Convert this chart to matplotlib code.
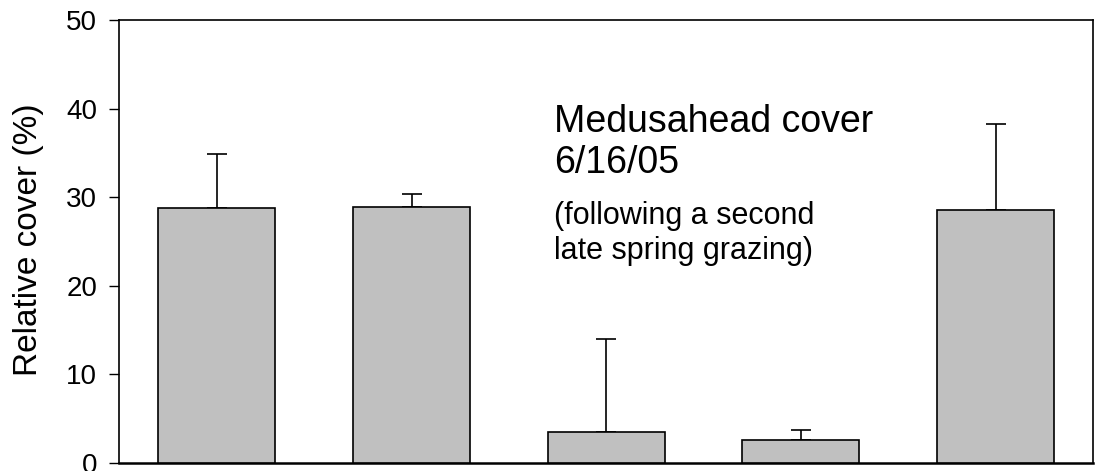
import matplotlib
matplotlib.use('Agg')
import matplotlib.pyplot as plt
import numpy as np

# data
groups = ['A', 'B', 'C', 'D', 'E']
cover = [28.75, 28.85, 3.5, 2.55, 28.6]
se_up = [6.1, 1.5, 10.55, 1.13, 9.7]
yticks = [0, 10, 20, 30, 40, 50]

plt.rcParams['font.family'] = ['Liberation Sans', 'DejaVu Sans']

fig = plt.figure(figsize=(11.03, 4.71), dpi=100)
ax = fig.add_axes([0.1083, 0.017, 0.8826, 0.9406])

x = np.arange(len(groups))
ax.bar(x, cover, width=0.6, color='#c0c0c0', edgecolor='black', linewidth=1.2, zorder=3)
ax.errorbar(x, cover, yerr=[np.zeros(len(cover)), se_up], fmt='none', ecolor='black',
            elinewidth=1.2, capsize=7, capthick=1.2, zorder=2)

ax.set_xlim(-0.5, 4.5)
ax.set_ylim(0, 50)
ax.set_xticks([])
ax.set_yticks(yticks)
ax.tick_params(axis='y', direction='out', length=7, width=1, labelsize=20, pad=9)

for side in ['top', 'right', 'left']:
    ax.spines[side].set_linewidth(1.2)
ax.spines['bottom'].set_linewidth(1.8)

ax.set_ylabel('Relative cover (%)', fontsize=24)
ax.yaxis.set_label_coords(-0.078, 0.503)

# annotation text
ax.text(1.732, 37.4, 'Medusahead cover', fontsize=27, va='baseline')
ax.text(1.732, 32.7, '6/16/05', fontsize=27, va='baseline')
ax.text(1.732, 27.0, '(following a second', fontsize=22, va='baseline')
ax.text(1.732, 23.0, 'late spring grazing)', fontsize=22, va='baseline')

plt.savefig('out.png', dpi=100)
